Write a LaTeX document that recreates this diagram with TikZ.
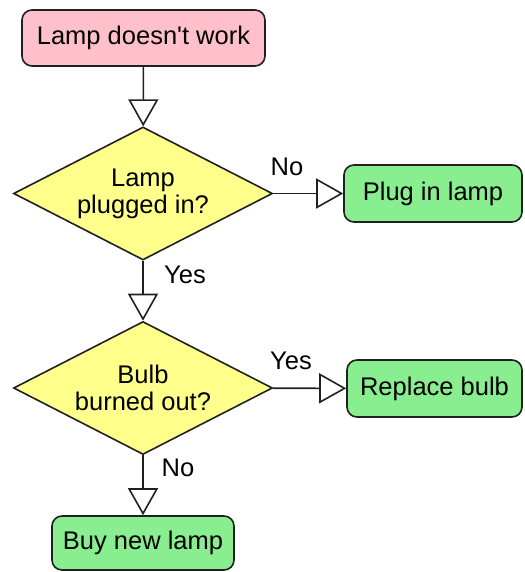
\documentclass[tikz,border=0pt]{standalone}
\usepackage{fontspec}
\setmainfont{Liberation Sans}
\usetikzlibrary{shapes.geometric,arrows.meta}
\definecolor{pinkc}{HTML}{FFC0CB}
\definecolor{yellowc}{HTML}{FFFF8C}
\definecolor{greenc}{HTML}{88EE90}
\definecolor{edgec}{HTML}{202020}
\newcommand{\straightq}{\XeTeXglyph\XeTeXcharglyph"27\relax}
\begin{document}
\begin{tikzpicture}[x=1pt,y=-1pt,
  txt/.style={font=\fontsize{25.5}{27}\selectfont},
  box/.style={txt, rectangle, rounded corners=10pt, draw=edgec, line width=1.6pt, inner sep=0pt},
  startbox/.style={box, fill=pinkc},
  endbox/.style={box, fill=greenc},
  decision/.style={txt, diamond, aspect=1.95, draw=edgec, line width=1.6pt, fill=yellowc,
     minimum width=259pt, minimum height=133pt, inner sep=0pt, align=center},
  lbl/.style={txt, inner sep=0pt},
  arr/.style={draw=edgec, line width=1.6pt, -{Triangle[open, fill=white, length=27pt, width=30pt, line width=1.6pt]}}
]
\useasboundingbox (0,0) rectangle (524,572);
\node[startbox, minimum width=243pt, minimum height=56pt] (start) at (143.5,38) {Lamp doesn\straightq t work};
\node[decision] (d1) at (143,193.5) {Lamp\\plugged in?};
\node[endbox, minimum width=178pt, minimum height=57pt] (plug) at (433,193.5) {Plug in lamp};
\node[decision] (d2) at (143,388) {Bulb\\burned out?};
\node[endbox, minimum width=175pt, minimum height=57pt] (repl) at (434.5,388.5) {Replace bulb};
\node[endbox, minimum width=182pt, minimum height=54pt] (buy) at (143,543) {Buy new lamp};
\draw[arr] (start) -- (d1);
\draw[arr] (d1) -- (plug);
\draw[arr] (d1) -- (d2);
\draw[arr] (d2) -- (repl);
\draw[arr] (d2) -- (buy);
\node[lbl] (lno1) at (287,167) {No};
\node[lbl] (lyes1) at (185,275) {Yes};
\node[lbl] (lyes2) at (291,361) {Yes};
\node[lbl] (lno2) at (178,468) {No};
\end{tikzpicture}
\end{document}
